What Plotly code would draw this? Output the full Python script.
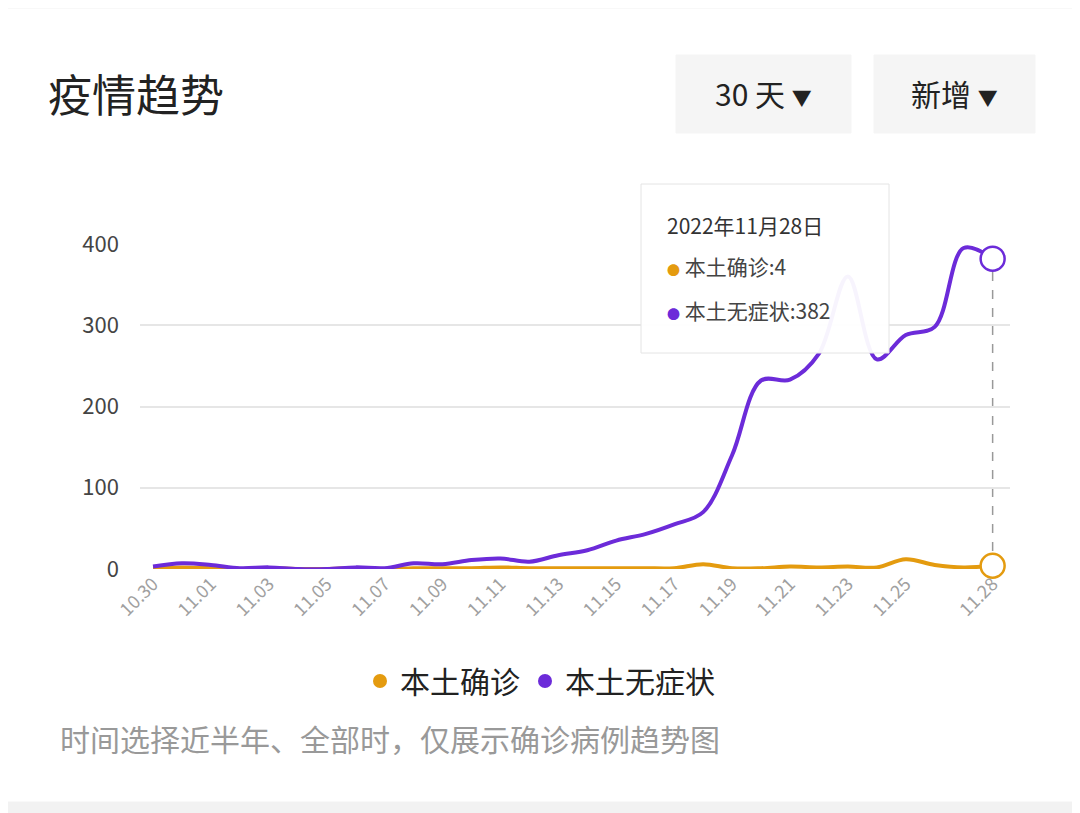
import plotly.graph_objects as go

dates = ['10.30', '10.31', '11.01', '11.02', '11.03', '11.04', '11.05', '11.06', '11.07', '11.08',
         '11.09', '11.10', '11.11', '11.12', '11.13', '11.14', '11.15', '11.16', '11.17', '11.18',
         '11.19', '11.20', '11.21', '11.22', '11.23', '11.24', '11.25', '11.26', '11.27', '11.28']
confirmed = [1, 2, 1, 0, 1, 0, 0, 1, 0, 1, 1, 1, 2, 1, 1, 1, 1, 1, 1, 6,
             1, 1, 3, 2, 3, 2, 12, 5, 2, 4]
asymptomatic = [3, 7, 5, 1, 2, 0, 0, 2, 1, 7, 6, 11, 13, 9, 17, 23, 35, 43, 55, 70,
                140, 232, 233, 265, 360, 258, 288, 298, 395, 382]

ORANGE = '#e49b0f'
PURPLE = '#6c2bd9'
x = list(range(len(dates)))
tick_idx = x[:-1:2][:-1] + [x[-1]]  # 10.30 ... 11.25, 11.28
tick_labels = [dates[i] for i in tick_idx]

OFF = 8  # 页面边距补偿

fig = go.Figure()
fig.add_trace(go.Scatter(x=x, y=confirmed, mode='lines', line=dict(color=ORANGE, width=4, shape='spline'),
                         name='本土确诊', showlegend=False, cliponaxis=False))
fig.add_trace(go.Scatter(x=x, y=asymptomatic, mode='lines', line=dict(color=PURPLE, width=4, shape='spline'),
                         name='本土无症状', showlegend=False, cliponaxis=False))
# 最后一天的标记
fig.add_trace(go.Scatter(x=[x[-1]], y=[confirmed[-1]], mode='markers', showlegend=False, cliponaxis=False,
                         marker=dict(size=24, color='white', line=dict(color=ORANGE, width=2.5))))
fig.add_trace(go.Scatter(x=[x[-1]], y=[asymptomatic[-1]], mode='markers', showlegend=False, cliponaxis=False,
                         marker=dict(size=24, color='white', line=dict(color=PURPLE, width=2.5))))
# 图例
fig.add_trace(go.Scatter(x=[None], y=[None], mode='markers', name='本土确诊', marker=dict(color=ORANGE, size=14)))
fig.add_trace(go.Scatter(x=[None], y=[None], mode='markers', name='本土无症状', marker=dict(color=PURPLE, size=14)))

font = "Noto Sans CJK SC, sans-serif"
fig.update_layout(
    width=1080, height=813,
    margin=dict(l=140 - OFF, r=70 + OFF, t=244 - OFF, b=244 + OFF),
    paper_bgcolor='white', plot_bgcolor='white',
    font=dict(family=font, color='#333333'),
    xaxis=dict(range=[-0.45, 29.6], tickvals=tick_idx, ticktext=tick_labels, tickangle=-45,
               showgrid=False, zeroline=False, showline=False,
               tickfont=dict(size=18, color='#a0a0a0')),
    yaxis=dict(range=[0, 400], tickvals=[0, 100, 200, 300, 400], gridcolor='#e6e6e6', gridwidth=2,
               zeroline=False, tickfont=dict(size=22, color='#444444'), ticks='', ticklabelstandoff=20),
    legend=dict(orientation='h', xref='container', yref='container', x=(540 - OFF) / 1080, xanchor='center',
                y=1 - (681 - OFF) / 813, yanchor='middle', font=dict(size=30, color='#222222'), itemwidth=30),
)

fig.add_shape(type='line', x0=x[-1], x1=x[-1], y0=0, y1=asymptomatic[-1], xref='x', yref='y',
              line=dict(color='#999999', width=1.5, dash='dash'), layer='below')

def to_paper(xp, yp):
    return (xp - 140) / 870, (569 - yp) / 325

# 背景灰条、按钮与提示框
for x0, y0, x1, y1, col, line in [(0, 0, 1080, 8, '#f2f2f2', '#f2f2f2'),
                                  (0, 802, 1080, 813, '#f2f2f2', '#f2f2f2'),
                                  (676, 55, 851, 133, '#f5f5f5', '#f5f5f5'),
                                  (874, 55, 1035, 133, '#f5f5f5', '#f5f5f5'),
                                  (641, 184, 889, 353, 'rgba(255,255,255,0.95)', '#e4e4e4')]:
    px0, py1 = to_paper(x0, y0)
    px1, py0 = to_paper(x1, y1)
    fig.add_shape(type='rect', xref='paper', yref='paper', x0=px0, x1=px1, y0=py0, y1=py1,
                  fillcolor=col, line=dict(color=line, width=1),
                  layer='above' if line == '#e4e4e4' else 'below')

def ann(text, xp, yp, size, color='#222222', anchor='left'):
    px_, py_ = to_paper(xp, yp)
    fig.add_annotation(text=text, xref='paper', yref='paper', x=px_, y=py_,
                       xanchor=anchor, yanchor='middle', showarrow=False,
                       font=dict(size=size, color=color, family=font))

ann('疫情趋势', 46, 93, 44)
ann('30 天 <span style="font-size:20px">▼</span>', 763, 93, 30, anchor='center')
ann('新增 <span style="font-size:20px">▼</span>', 954, 93, 30, anchor='center')
ann('2022年11月28日', 665, 225, 21, '#333333')
ann('<span style="color:%s;font-size:13px">●</span> 本土确诊:%d' % (ORANGE, confirmed[-1]), 665, 266, 21, '#444444')
ann('<span style="color:%s;font-size:13px">●</span> 本土无症状:%d' % (PURPLE, asymptomatic[-1]), 665, 310, 21, '#444444')
ann('时间选择近半年、全部时，仅展示确诊病例趋势图', 58, 738, 30, '#999999')

fig.write_html("out.html")
